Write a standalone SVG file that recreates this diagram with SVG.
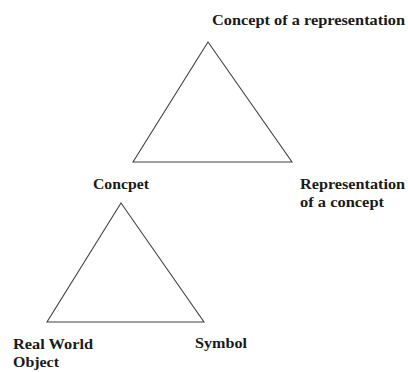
<svg xmlns="http://www.w3.org/2000/svg" width="408" height="372" viewBox="0 0 408 372">
<style>
.t{font-family:"Liberation Serif","Times New Roman",serif;font-weight:bold;font-size:14.5px;fill:#1a1a1a}
.e{fill:none;stroke:#444;stroke-width:1.1}
</style>
<rect width="408" height="372" fill="#fff"/>
<g id="connectors">
<path class="e" d="M208,42 L292,162 L133,162 Z"/>
<path class="e" d="M121,203 L204,322 L47,322 Z"/>
</g>
<g id="n-concept-of-representation"><text class="t" x="212" y="25" textLength="193" lengthAdjust="spacingAndGlyphs">Concept of a representation</text></g>
<g id="n-concpet"><text class="t" x="93" y="189" textLength="56" lengthAdjust="spacingAndGlyphs">Concpet</text></g>
<g id="n-representation"><text class="t" x="300" y="189" textLength="105" lengthAdjust="spacingAndGlyphs">Representation</text><text class="t" x="300" y="207" textLength="84" lengthAdjust="spacingAndGlyphs">of a concept</text></g>
<g id="n-real-world"><text class="t" x="13" y="349" textLength="80" lengthAdjust="spacingAndGlyphs">Real World</text><text class="t" x="13" y="367" textLength="46" lengthAdjust="spacingAndGlyphs">Object</text></g>
<g id="n-symbol"><text class="t" x="195" y="348" textLength="52" lengthAdjust="spacingAndGlyphs">Symbol</text></g>
</svg>
